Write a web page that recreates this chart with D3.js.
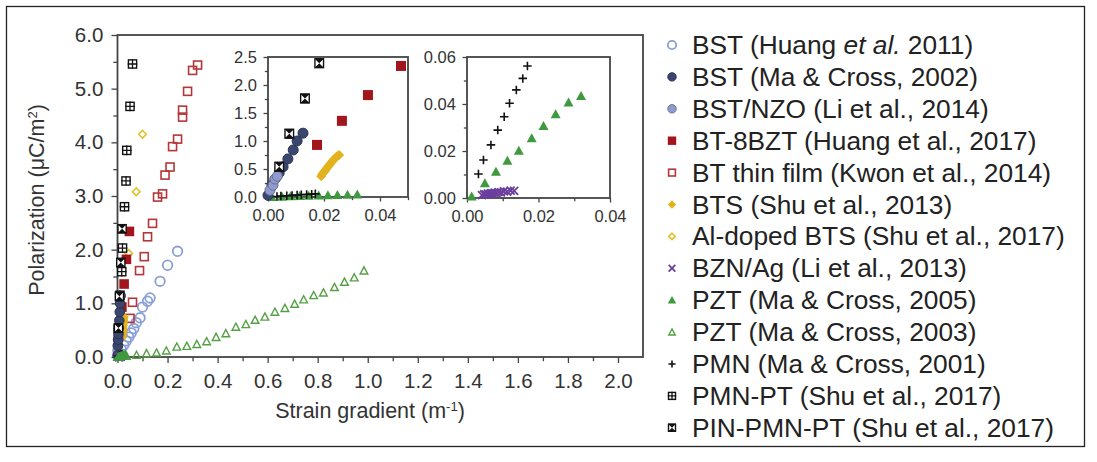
<!DOCTYPE html>
<html><head><meta charset="utf-8">
<script src="https://cdn.jsdelivr.net/npm/d3@7"></script>
<style>
body{margin:0;background:#fff}
svg{display:block;font-family:"Liberation Sans",Arial,Helvetica,sans-serif}
</style>
</head><body>
<svg id="chart" width="1097" height="462"></svg>
<script>
// ---- series data: [strain gradient (m^-1), polarization (µC/m^2)] ----
const bstHuang2011 = [[0.015,0.14],[0.025,0.22],[0.035,0.30],[0.045,0.37],[0.055,0.45],[0.065,0.53],[0.075,0.64],[0.09,0.73],[0.10,0.93],[0.12,1.04],[0.13,1.10],[0.17,1.41],[0.20,1.71],[0.24,1.97]];
const bstMa2002 = [[0.0,0.03],[0.0014,0.21],[0.0025,0.32],[0.004,0.43],[0.0054,0.54],[0.0071,0.68],[0.009,0.84],[0.0104,1.0],[0.0125,1.14]];
const bstNzo2014 = [[0.0007,0.12],[0.0018,0.21],[0.0025,0.32],[0.0033,0.37]];
const bt8bzt2017 = [[0.0175,0.93],[0.0264,1.36],[0.0357,1.82],[0.0475,2.34]];
const btFilm2014 = [[0.05,0.72],[0.06,1.02],[0.088,1.61],[0.107,1.87],[0.12,2.24],[0.14,2.49],[0.16,2.98],[0.18,3.04],[0.19,3.39],[0.21,3.54],[0.22,3.92],[0.24,4.06],[0.26,4.47],[0.26,4.6],[0.28,4.95],[0.30,5.34],[0.32,5.44]];
const bts2013 = [[0.0190,0.37],[0.0194,0.41],[0.0199,0.44],[0.0204,0.47],[0.0208,0.50],[0.0213,0.53],[0.0217,0.56],[0.0222,0.59],[0.0227,0.62],[0.0232,0.65],[0.0237,0.68],[0.0243,0.71],[0.0248,0.73],[0.0254,0.75]];
const alBts2017 = [[0.045,1.93],[0.075,3.08],[0.10,4.15]];
const bznAg2013 = [[0.0042,0.0012],[0.0048,0.0016],[0.0053,0.0014],[0.0058,0.0019],[0.0063,0.0017],[0.0068,0.0021],[0.0072,0.0019],[0.0077,0.0023],[0.0082,0.0021],[0.0088,0.0025],[0.0095,0.0024],[0.0103,0.0028],[0.0112,0.0027],[0.0122,0.0031],[0.0132,0.0030]];
const pzt2005 = [[0.0013,0.0006],[0.005,0.0063],[0.0081,0.0112],[0.0113,0.0159],[0.0145,0.0201],[0.0181,0.0254],[0.0214,0.0306],[0.0248,0.0356],[0.0284,0.0406],[0.0319,0.0434]];
const pzt2003 = [[0.0,0.0],[0.036,0.02],[0.076,0.037],[0.116,0.068],[0.156,0.08],[0.195,0.118],[0.237,0.19],[0.277,0.205],[0.317,0.24],[0.356,0.29],[0.394,0.37],[0.433,0.44],[0.473,0.56],[0.513,0.61],[0.55,0.69],[0.589,0.75],[0.629,0.84],[0.669,0.91],[0.708,0.99],[0.744,1.07],[0.784,1.15],[0.823,1.2],[0.867,1.3],[0.907,1.4],[0.946,1.48],[0.985,1.61]];
const pmn2001 = [[0.0032,0.0102],[0.0046,0.0162],[0.0067,0.0226],[0.0086,0.0289],[0.0104,0.0346],[0.0119,0.0403],[0.0138,0.046],[0.0156,0.0509],[0.0169,0.0562]];
const pmnPt2017 = [[0.003,0.53],[0.01,1.15],[0.017,1.59],[0.02,2.03],[0.028,2.8],[0.034,3.28],[0.037,3.85],[0.05,4.67],[0.06,5.46]];
const pinPmnPt2017 = [[0.004,0.54],[0.0076,1.13],[0.0132,1.76],[0.0183,2.39]];

// axis ticks
const mainXTicks = [0,0.2,0.4,0.6,0.8,1.0,1.2,1.4,1.6,1.8,2.0];
const mainYTicks = [0,1,2,3,4,5,6];
const inset1XTicks = [0,0.02,0.04];
const inset1YTicks = [0,0.5,1.0,1.5,2.0,2.5];
const inset2XTicks = [0,0.02,0.04];
const inset2YTicks = [0,0.02,0.04,0.06];

// legend entries (in order)
const legendLabels = [
  ["BST (Huang ", {i:"et al."}, " 2011)"],
  ["BST (Ma & Cross, 2002)"],
  ["BST/NZO (Li et al., 2014)"],
  ["BT-8BZT (Huang et al., 2017)"],
  ["BT thin film (Kwon et al., 2014)"],
  ["BTS (Shu et al., 2013)"],
  ["Al-doped BTS (Shu et al., 2017)"],
  ["BZN/Ag (Li et al., 2013)"],
  ["PZT (Ma & Cross, 2005)"],
  ["PZT (Ma & Cross, 2003)"],
  ["PMN (Ma & Cross, 2001)"],
  ["PMN-PT (Shu et al., 2017)"],
  ["PIN-PMN-PT (Shu et al., 2017)"]
];

// marker style for each series
const styles = {
  bstHuang2011: {type:"circleOpen", color:"#8a9fd8"},
  bstMa2002:    {type:"circleFill", color:"#3a4670"},
  bstNzo2014:   {type:"circleFill", color:"#8f9bcc"},
  bt8bzt2017:   {type:"squareFill", color:"#a3151c"},
  btFilm2014:   {type:"squareOpen", color:"#b3373a"},
  bts2013:      {type:"diamondFill", color:"#e2b31e"},
  alBts2017:    {type:"diamondOpen", color:"#e0c22c"},
  bznAg2013:    {type:"x", color:"#6a3f9e"},
  pzt2005:      {type:"triFill", color:"#3f9a3f"},
  pzt2003:      {type:"triOpen", color:"#55a045"},
  pmn2001:      {type:"plus", color:"#111"},
  pmnPt2017:    {type:"boxPlus", color:"#111"},
  pinPmnPt2017: {type:"boxHour", color:"#111"}
};
const seriesData = {bstHuang2011,bstMa2002,bstNzo2014,bt8bzt2017,btFilm2014,bts2013,alBts2017,bznAg2013,pzt2005,pzt2003,pmn2001,pmnPt2017,pinPmnPt2017};
const legendOrder = ["bstHuang2011","bstMa2002","bstNzo2014","bt8bzt2017","btFilm2014","bts2013","alBts2017","bznAg2013","pzt2005","pzt2003","pmn2001","pmnPt2017","pinPmnPt2017"];

const svg = d3.select("#chart");
const FONT = '"Liberation Sans",Arial,Helvetica,sans-serif';

function marker(g, type, s, color){
  switch(type){
    case "circleOpen":
      g.append("circle").attr("r",s).attr("fill","none").attr("stroke",color).attr("stroke-width",1.8); break;
    case "circleFill":
      g.append("circle").attr("r",s).attr("fill",color).attr("stroke",d3.color(color).darker(0.9)).attr("stroke-width",1); break;
    case "squareFill":
      g.append("rect").attr("x",-s).attr("y",-s).attr("width",2*s).attr("height",2*s).attr("fill",color); break;
    case "squareOpen":
      g.append("rect").attr("x",-s+0.8).attr("y",-s+0.8).attr("width",2*s-1.6).attr("height",2*s-1.6).attr("fill","none").attr("stroke",color).attr("stroke-width",1.6); break;
    case "diamondFill":
      g.append("path").attr("d",`M0,${-s}L${s},0L0,${s}L${-s},0Z`).attr("fill",color); break;
    case "diamondOpen":
      g.append("path").attr("d",`M0,${-s+1}L${s-1},0L0,${s-1}L${-s+1},0Z`).attr("fill","none").attr("stroke",color).attr("stroke-width",1.6); break;
    case "x":
      g.append("path").attr("d",`M${-s*0.8},${-s*0.8}L${s*0.8},${s*0.8}M${-s*0.8},${s*0.8}L${s*0.8},${-s*0.8}`).attr("stroke",color).attr("stroke-width",1.8).attr("fill","none"); break;
    case "triFill":
      g.append("path").attr("d",`M0,${-s}L${s},${s*0.8}L${-s},${s*0.8}Z`).attr("fill",color); break;
    case "triOpen":
      g.append("path").attr("d",`M0,${-s+1}L${s-1},${s*0.8-0.5}L${-s+1},${s*0.8-0.5}Z`).attr("fill","none").attr("stroke",color).attr("stroke-width",1.4); break;
    case "plus":
      g.append("path").attr("d",`M${-s*0.85},0L${s*0.85},0M0,${-s*0.85}L0,${s*0.85}`).attr("stroke",color).attr("stroke-width",1.6).attr("fill","none"); break;
    case "boxPlus":
      g.append("rect").attr("x",-s+0.7).attr("y",-s+0.7).attr("width",2*s-1.4).attr("height",2*s-1.4).attr("fill","#fff").attr("stroke",color).attr("stroke-width",1.4);
      g.append("path").attr("d",`M${-s},0L${s},0M0,${-s}L0,${s}`).attr("stroke",color).attr("stroke-width",1.3); break;
    case "boxHour":
      g.append("rect").attr("x",-s+0.7).attr("y",-s+0.7).attr("width",2*s-1.4).attr("height",2*s-1.4).attr("fill","#fff").attr("stroke",color).attr("stroke-width",1.4);
      g.append("path").attr("d",`M${-s},${-s}L${s},${-s}L${-s},${s}L${s},${s}Z`).attr("fill",color); break;
  }
}

function drawSeries(layer, key, x, y, s){
  const st = styles[key];
  layer.append("g").selectAll("g").data(seriesData[key]).join("g")
    .attr("transform", d => `translate(${x(d[0])},${y(d[1])})`)
    .each(function(){ marker(d3.select(this), st.type, s, st.color); });
}

function axes(g, x, y, xt, yt, xMinor, yMinor, fmtX, fmtY, fs, tick){
  const [x0,x1] = x.range(), [y0,y1] = y.range();
  // minor ticks
  g.append("g").attr("transform",`translate(0,${y0})`)
    .call(d3.axisBottom(x).tickValues(xMinor).tickSize(tick*0.7).tickFormat("").tickSizeOuter(0))
    .call(a => a.select(".domain").remove());
  g.append("g").attr("transform",`translate(${x0},0)`)
    .call(d3.axisLeft(y).tickValues(yMinor).tickSize(tick*0.7).tickFormat("").tickSizeOuter(0))
    .call(a => a.select(".domain").remove());
  // major ticks with labels
  const ax = g.append("g").attr("transform",`translate(0,${y0})`)
    .call(d3.axisBottom(x).tickValues(xt).tickSize(tick).tickPadding(fs*0.5).tickFormat(fmtX).tickSizeOuter(0));
  const ay = g.append("g").attr("transform",`translate(${x0},0)`)
    .call(d3.axisLeft(y).tickValues(yt).tickSize(tick).tickPadding(fs*0.4).tickFormat(fmtY).tickSizeOuter(0));
  [ax,ay].forEach(a => {
    a.select(".domain").remove();
    a.selectAll("text").attr("font-family",FONT).attr("font-size",fs).attr("fill","#333");
  });
  g.selectAll(".tick line").attr("stroke","#444").attr("stroke-width",1.3);
  // frame
  g.append("rect").attr("x",x0).attr("y",y1).attr("width",x1-x0).attr("height",y0-y1)
    .attr("fill","none").attr("stroke","#444").attr("stroke-width",1.8);
}

// outer figure border
svg.append("rect").attr("x",6.5).attr("y",6.5).attr("width",1078).attr("height",440)
  .attr("fill","none").attr("stroke","#222").attr("stroke-width",1.3);

// ---- main plot ----
const xM = d3.scaleLinear().domain([0,2.1]).range([117.5,643]);
const yM = d3.scaleLinear().domain([0,6]).range([357,35]);
const main = svg.append("g");
axes(main, xM, yM, mainXTicks, mainYTicks,
  d3.range(0.1,2.1,0.2), d3.range(0.5,6,1), d3.format(".1f"), d3.format(".1f"), 20.5, 6);

const mainOrder = ["pzt2003","bstHuang2011","btFilm2014","alBts2017","pmnPt2017","bt8bzt2017","bts2013","bstNzo2014","bstMa2002","pinPmnPt2017","bznAg2013","pmn2001","pzt2005"];
const mainLayer = main.append("g");
mainOrder.forEach(k => drawSeries(mainLayer, k, xM, yM, 4.8));

// axis titles
svg.append("text").attr("x",370).attr("y",418).attr("text-anchor","middle")
  .attr("font-size",21.5).attr("fill","#333")
  .call(t => { t.append("tspan").text("Strain gradient (m");
               t.append("tspan").attr("baseline-shift","super").attr("font-size",13).text("-1");
               t.append("tspan").text(")"); });
svg.append("text").attr("transform",`translate(44,200) rotate(-90)`).attr("text-anchor","middle")
  .attr("font-size",21.5).attr("fill","#333")
  .call(t => { t.append("tspan").text("Polarization (μC/m");
               t.append("tspan").attr("baseline-shift","super").attr("font-size",13).text("2");
               t.append("tspan").text(")"); });

// ---- inset 1 ----
const x1 = d3.scaleLinear().domain([0,0.05]).range([268,408]);
const y1 = d3.scaleLinear().domain([0,2.5]).range([197,57]);
const in1 = svg.append("g");
in1.append("rect").attr("x",268).attr("y",57).attr("width",140).attr("height",140).attr("fill","#fff");
axes(in1, x1, y1, inset1XTicks, inset1YTicks, [0.01,0.03,0.05], [0.25,0.75,1.25,1.75,2.25],
  d3.format(".2f"), d3.format(".1f"), 16.5, 4.5);
const in1Layer = in1.append("g");
["pzt2005","pmn2001","bts2013","bt8bzt2017","bstMa2002","bstNzo2014","pinPmnPt2017"]
  .forEach(k => drawSeries(in1Layer, k, x1, y1, 5));

// ---- inset 2 ----
const x2 = d3.scaleLinear().domain([0,0.04]).range([467,610]);
const y2 = d3.scaleLinear().domain([0,0.06]).range([198,57]);
const in2 = svg.append("g");
in2.append("rect").attr("x",467).attr("y",57).attr("width",143).attr("height",141).attr("fill","#fff");
axes(in2, x2, y2, inset2XTicks, inset2YTicks, [0.01,0.03], [0.01,0.03,0.05],
  d3.format(".2f"), d3.format(".2f"), 16.5, 4.5);
const in2Layer = in2.append("g");
["bznAg2013","pzt2005","pmn2001"].forEach(k => drawSeries(in2Layer, k, x2, y2, 5));

// ---- legend ----
const legend = svg.append("g");
legendOrder.forEach((k,i) => {
  const row = legend.append("g").attr("transform",`translate(672,${45 + i*31.9})`);
  marker(row.append("g"), styles[k].type, 4.2, styles[k].color);
  const t = row.append("text").attr("x",20).attr("y",9).attr("font-size",26.3).attr("fill","#222");
  legendLabels[i].forEach(part => {
    if (typeof part === "string") t.append("tspan").text(part);
    else t.append("tspan").attr("font-style","italic").text(part.i);
  });
});
</script>
</body></html>
